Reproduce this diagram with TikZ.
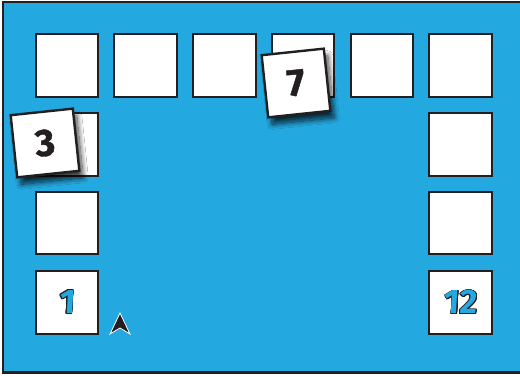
\documentclass[tikz,border=0pt]{standalone}
\usepackage{fontspec}
\setmainfont{Fira Sans}
\newfontfamily\heavy{Fira Sans}[BoldFeatures={FakeBold=1.2}]
\newfontfamily\slanted{Fira Sans}[BoldFeatures={FakeSlant=0.06}]
\usepackage{contour}
\contourlength{0.7pt}
\usetikzlibrary{shadows.blur}
\definecolor{bgblue}{RGB}{36,168,224}
\definecolor{ink}{RGB}{35,31,32}
\tikzset{
  tile/.style={draw=ink, fill=white, line width=2.4pt, minimum size=62.5pt, inner sep=0pt},
  card/.style={tile, font=\heavy\bfseries\fontsize{38}{38}\selectfont, text=ink,
    blur shadow={shadow xshift=4pt, shadow yshift=-7pt, shadow blur radius=5pt, shadow opacity=75, shadow blur steps=14}},
  bluenum/.style={font=\slanted\bfseries\fontsize{34}{34}\selectfont, text=bgblue}
}
\begin{document}
\begin{tikzpicture}[x=1pt,y=-1pt]
\useasboundingbox (0,0) rectangle (520,377);
\fill[white] (0,0) rectangle (520,377);
\draw[ink, line width=2.6pt, fill=bgblue] (3,2) rectangle (530,372.5);
% top row
\node[tile] (t1) at (67,65.5) {};
\node[tile] (t2) at (145.5,65.5) {};
\node[tile] (t3) at (224.5,65.5) {};
\node[tile] (t4) at (303,65.5) {};
\node[tile] (t5) at (382,65.5) {};
\node[tile] (t6) at (460.5,65.5) {};
% left column
\node[tile] (l2) at (67,144.5) {};
\node[tile] (l3) at (67,223) {};
\node[tile, bluenum] (l4) at (67,302.5) {\contour{ink}{1}};
% right column
\node[tile] (r2) at (460.5,144.5) {};
\node[tile] (r3) at (460.5,223) {};
\node[tile, bluenum] (r4) at (460.5,302.5) {\contour{ink}{12}};
% cards
\node[card, rotate=6] (c3) at (45,143) {3};
\node[card, rotate=6] (c7) at (296,83) {7};
% pointer
\coordinate (p) at (120,313);
\filldraw[fill=ink, draw=white, line width=0.8pt, line join=miter]
  (p) -- ++(10,21) -- ++(-10,-6) -- ++(-10,6) -- cycle;
\end{tikzpicture}
\end{document}
